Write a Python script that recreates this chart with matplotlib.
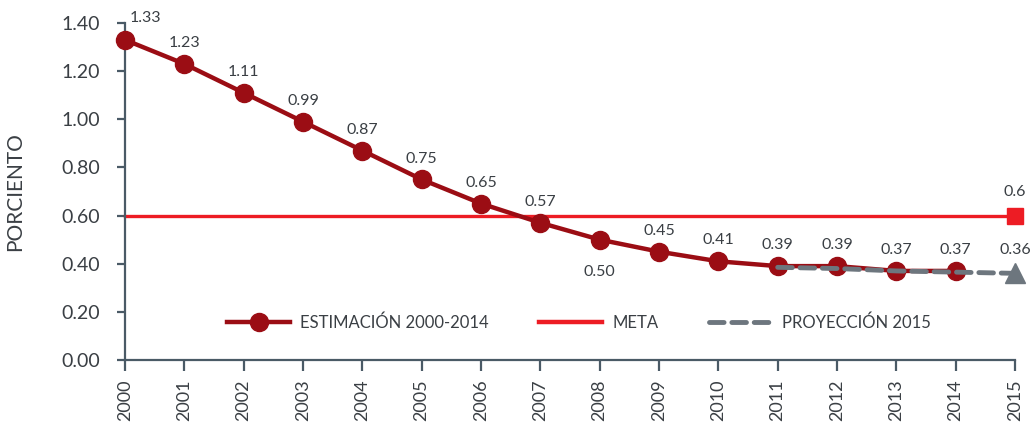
import matplotlib
matplotlib.use("Agg")
import matplotlib.pyplot as plt
from matplotlib.lines import Line2D

plt.rcParams['font.family'] = ['Lato', 'DejaVu Sans']

years = list(range(2000, 2016))
est_years = list(range(2000, 2015))
estimacion = [1.33, 1.23, 1.11, 0.99, 0.87, 0.75, 0.65, 0.57, 0.50, 0.45, 0.41, 0.39, 0.39, 0.37, 0.37]
est_labels = ["1.33", "1.23", "1.11", "0.99", "0.87", "0.75", "0.65", "0.57", "0.50", "0.45", "0.41", "0.39", "0.39", "0.37", "0.37"]
meta_years = [2000, 2015]
meta = [0.6, 0.6]
proy_years = [2011, 2012, 2013, 2014, 2015]
proyeccion = [0.385, 0.38, 0.37, 0.365, 0.36]
y_ticks = [0.0, 0.2, 0.4, 0.6, 0.8, 1.0, 1.2, 1.4]

DARK_RED = "#9B0D14"
RED = "#ED1C24"
GRAY = "#6D767E"
AXIS = "#4A5A66"
TEXT = "#3A3F44"

fig = plt.figure(figsize=(10.35, 4.3), dpi=100)
ax = fig.add_axes([0.1208, 0.1628, 0.8599, 0.7837])

ax.plot(meta_years, meta, color=RED, lw=2.4, zorder=2, clip_on=False)
ax.plot([2015], [0.6], marker="s", color=RED, ms=11, zorder=5, clip_on=False)
ax.plot(est_years, estimacion, color=DARK_RED, lw=3.2, marker="o", ms=13,
        zorder=3, clip_on=False)
ax.plot(proy_years, proyeccion, color=GRAY, lw=3.5, ls=(0, (3, 1.6)),
        dash_capstyle="round", zorder=4, clip_on=False)
ax.plot([2015], [proyeccion[-1]], marker="^", color=GRAY, ms=14, zorder=5,
        clip_on=False)

for x, y, t in zip(est_years, estimacion, est_labels):
    if x == 2008:
        ax.annotate(t, (x, y), xytext=(0, -18), textcoords="offset points",
                    ha="center", va="top", fontsize=11.5, color=TEXT)
    elif x == 2000:
        ax.annotate(t, (x, y), xytext=(15, 11), textcoords="offset points",
                    ha="center", va="bottom", fontsize=11.5, color=TEXT)
    else:
        ax.annotate(t, (x, y), xytext=(0, 10), textcoords="offset points",
                    ha="center", va="bottom", fontsize=11.5, color=TEXT)
ax.annotate("0.6", (2015, 0.6), xytext=(0, 12), textcoords="offset points",
            ha="center", va="bottom", fontsize=11.5, color=TEXT)
ax.annotate("0.36", (2015, proyeccion[-1]), xytext=(0, 12), textcoords="offset points",
            ha="center", va="bottom", fontsize=11.5, color=TEXT)

ax.set_xlim(2000, 2015)
ax.set_ylim(0, 1.4)
ax.set_xticks(years)
ax.set_xticklabels([str(y) for y in years], rotation=90, fontsize=13, color=TEXT)
ax.set_yticks(y_ticks)
ax.set_yticklabels([f"{v:.2f}" for v in y_ticks], fontsize=14, color=TEXT)
ax.set_ylabel("PORCIENTO", fontsize=15, color=TEXT, labelpad=26)

for s in ["top", "right"]:
    ax.spines[s].set_visible(False)
for s in ["left", "bottom"]:
    ax.spines[s].set_color(AXIS)
    ax.spines[s].set_linewidth(1.6)
ax.tick_params(axis="both", color=AXIS, width=1.6)
ax.tick_params(axis="y", length=6, pad=12)
ax.tick_params(axis="x", length=8, pad=6)

handles = [
    Line2D([], [], color=DARK_RED, lw=3.2, marker="o", ms=13),
    Line2D([], [], color=RED, lw=3.2),
    Line2D([], [], color=GRAY, lw=3.5, ls=(0, (3, 1.6)), dash_capstyle="round"),
]
labels = ["ESTIMACIÓN 2000-2014", "META", "PROYECCIÓN 2015"]
ax.legend(handles, labels, loc="center", bbox_to_anchor=(0.51, 0.11), ncol=3,
          frameon=False, fontsize=12, handlelength=3.8, columnspacing=3.0,
          handletextpad=0.6, labelcolor=TEXT, numpoints=1)

fig.savefig("out.png", dpi=100)
